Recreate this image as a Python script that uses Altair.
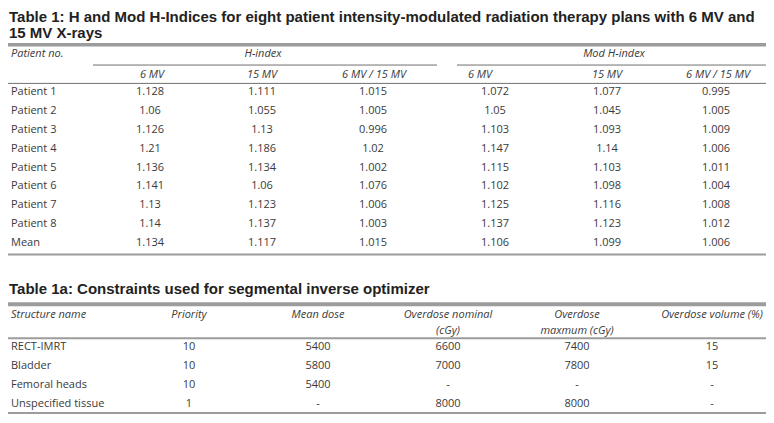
import altair as alt
import pandas as pd

# ---------------- data ----------------
title1 = ["Table 1: H and Mod H-Indices for eight patient intensity-modulated radiation therapy plans with 6 MV and",
          "15 MV X-rays"]
patients = ["Patient 1", "Patient 2", "Patient 3", "Patient 4", "Patient 5",
            "Patient 6", "Patient 7", "Patient 8", "Mean"]
h_6mv = ["1.128", "1.06", "1.126", "1.21", "1.136", "1.141", "1.13", "1.14", "1.134"]
h_15mv = ["1.111", "1.055", "1.13", "1.186", "1.134", "1.06", "1.123", "1.137", "1.117"]
h_ratio = ["1.015", "1.005", "0.996", "1.02", "1.002", "1.076", "1.006", "1.003", "1.015"]
m_6mv = ["1.072", "1.05", "1.103", "1.147", "1.115", "1.102", "1.125", "1.137", "1.106"]
m_15mv = ["1.077", "1.045", "1.093", "1.14", "1.103", "1.098", "1.116", "1.123", "1.099"]
m_ratio = ["0.995", "1.005", "1.009", "1.006", "1.011", "1.004", "1.008", "1.012", "1.006"]
group_headers = ["H-index", "Mod H-index"]
sub_headers = ["6 MV", "15 MV", "6 MV / 15 MV", "6 MV", "15 MV", "6 MV / 15 MV"]

title2 = "Table 1a: Constraints used for segmental inverse optimizer"
t2_headers = [["Structure name"], ["Priority"], ["Mean dose"], ["Overdose nominal", "(cGy)"],
              ["Overdose", "maxmum (cGy)"], ["Overdose volume (%)"]]
structures = ["RECT-IMRT", "Bladder", "Femoral heads", "Unspecified tissue"]
priority = ["10", "10", "10", "1"]
mean_dose = ["5400", "5800", "5400", "-"]
od_nominal = ["6600", "7000", "-", "8000"]
od_max = ["7400", "7800", "-", "8000"]
od_volume = ["15", "15", "-", "-"]

# ---------------- layout (reference pixel grid) ----------------
W, H = 774, 423
t1_row0, t1_step = 89, 19.5
t1_sub_x = [152, 262, 374, 480, 607, 718]
t1_data_x = [150, 262, 373, 495, 607, 716]
t1_group_x = [263, 614]
t2_row0, t2_step = 353, 19.7
t2_x = [189, 318, 448, 577, 712]

TEXT = "#3a3a3a"
THICK = "#9c9c9c"
THIN = "#707070"

cells = []
def add(text, x, y, style, align="center"):
    cells.append(dict(text=text, x=x, y=y, style=style, align=align))

for i, t in enumerate(title1):
    add(t, 9, 11 + i * 16.5, "title", "left")
add("Patient no.", 11, 50, "head", "left")
for g, gx in zip(group_headers, t1_group_x):
    add(g, gx, 50, "head")
for s, sx in zip(sub_headers, t1_sub_x):
    add(s, sx, 71, "head")
cols = [h_6mv, h_15mv, h_ratio, m_6mv, m_15mv, m_ratio]
for r, p in enumerate(patients):
    y = t1_row0 + r * t1_step
    add(p, 11, y, "body", "left")
    for c, cx in zip(cols, t1_data_x):
        add(c[r], cx, y, "body")

add(title2, 9, 293, "title", "left")
hx = [11] + t2_x
for j, (hd, x) in enumerate(zip(t2_headers, hx)):
    for k, line in enumerate(hd):
        add(line, x, 320 + k * 16, "head", "left" if j == 0 else "center")
cols2 = [priority, mean_dose, od_nominal, od_max, od_volume]
for r, s in enumerate(structures):
    y = t2_row0 + r * t2_step
    add(s, 11, y, "body", "left")
    for c, cx in zip(cols2, t2_x):
        add(c[r], cx, y, "body")

df = pd.DataFrame(cells)

rules = pd.DataFrame([
    dict(x=0, x2=774, y=40, w=3.5, c=THICK),
    dict(x=93, x2=437, y=61, w=1, c=THIN),
    dict(x=457, x2=772, y=61, w=1, c=THIN),
    dict(x=0, x2=774, y=80, w=1, c=THIN),
    dict(x=0, x2=774, y=257, w=2, c=THICK),
    dict(x=0, x2=774, y=308.5, w=4, c=THICK),
    dict(x=0, x2=774, y=343.5, w=2, c=THICK),
    dict(x=0, x2=774, y=421, w=2, c=THICK),
])

xs = alt.Scale(domain=[8, W - 8], range=[0, W - 16])
ys = alt.Scale(domain=[2, H], range=[0, H - 16])

def text_layer(style, align, **kw):
    return alt.Chart(df).transform_filter(
        (alt.datum.style == style) & (alt.datum.align == align)
    ).mark_text(align=align, baseline="middle", **kw).encode(
        x=alt.X("x:Q", scale=xs, axis=None),
        y=alt.Y("y:Q", scale=ys, axis=None),
        text="text:N",
    )

layers = []
for (w, c), sub in rules.groupby(["w", "c"]):
    layers.append(
        alt.Chart(sub).mark_rule(color=c, strokeWidth=float(w)).encode(
            x=alt.X("x:Q", scale=xs, axis=None),
            x2="x2:Q",
            y=alt.Y("y:Q", scale=ys, axis=None),
        )
    )
layers += [
    text_layer("title", "left", font="Liberation Sans", fontSize=15, fontWeight="bold", color="#222222"),
    text_layer("head", "left", font="Open Sans", fontSize=11, fontStyle="italic", color=TEXT),
    text_layer("head", "center", font="Open Sans", fontSize=11, fontStyle="italic", color=TEXT),
    text_layer("body", "left", font="Open Sans", fontSize=11, color=TEXT),
    text_layer("body", "center", font="Open Sans", fontSize=11, color=TEXT),
]

chart = alt.layer(*layers).properties(
    width=W - 16, height=H - 16, padding=0,
    autosize=alt.AutoSizeParams(type="none"),
).configure_view(stroke=None)

chart.save("out.html", embed_options={"renderer": "svg", "actions": False})
